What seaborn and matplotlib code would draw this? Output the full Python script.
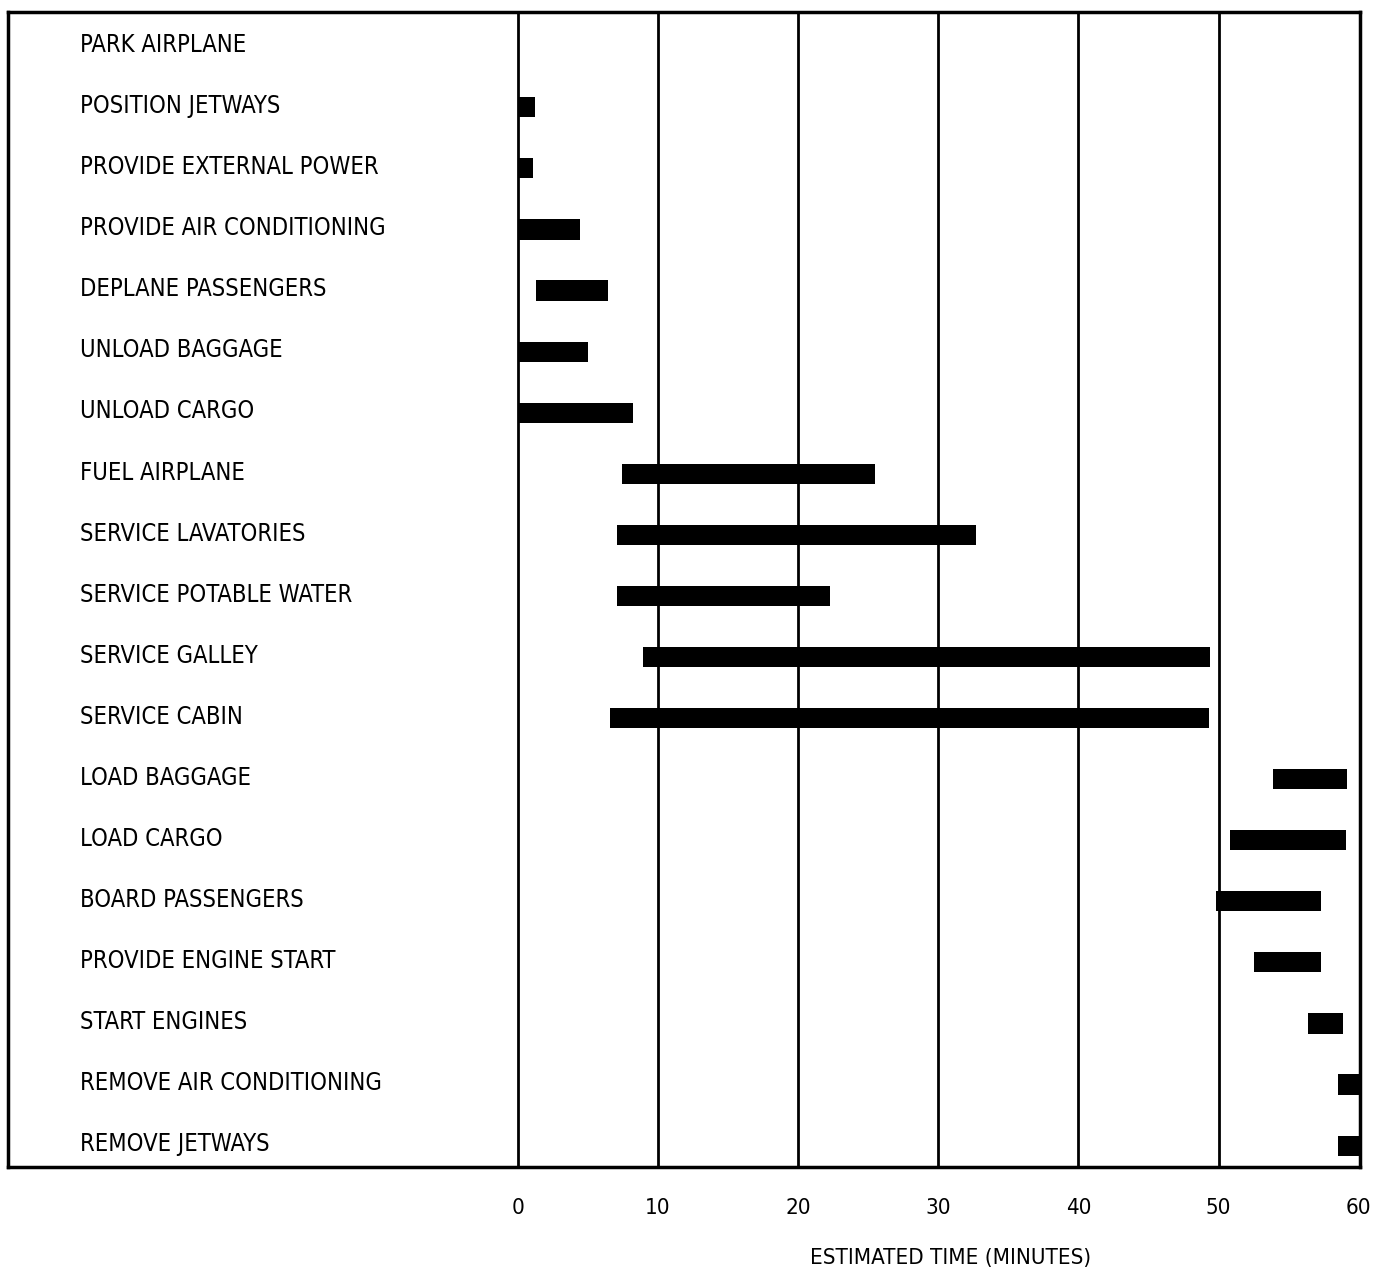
"""
Airplane turnaround schedule - Gantt style chart of ground servicing tasks.
"""

import pandas as pd
import seaborn as sns
import matplotlib.pyplot as plt

# tasks in order, top to bottom
tasks = [
    'PARK AIRPLANE', 'POSITION JETWAYS', 'PROVIDE EXTERNAL POWER',
    'PROVIDE AIR CONDITIONING', 'DEPLANE PASSENGERS', 'UNLOAD BAGGAGE',
    'UNLOAD CARGO', 'FUEL AIRPLANE', 'SERVICE LAVATORIES',
    'SERVICE POTABLE WATER', 'SERVICE GALLEY', 'SERVICE CABIN',
    'LOAD BAGGAGE', 'LOAD CARGO', 'BOARD PASSENGERS',
    'PROVIDE ENGINE START', 'START ENGINES', 'REMOVE AIR CONDITIONING',
    'REMOVE JETWAYS',
]

# start / end times in minutes
start = [0, 0, 0, 0, 1.3, 0, 0, 7.4, 7.1, 7.1, 8.9, 6.6,
         53.9, 50.8, 49.8, 52.5, 56.4, 58.5, 58.5]
end = [0, 1.2, 1.1, 4.4, 6.4, 5.0, 8.2, 25.5, 32.7, 22.3, 49.4, 49.3,
       59.2, 59.1, 57.3, 57.3, 58.9, 60.0, 60.0]

time_ticks = [0, 10, 20, 30, 40, 50, 60]

df = pd.DataFrame({'task': tasks, 'start': start, 'end': end})
df['duration'] = df['end'] - df['start']

sns.set_style('white')
plt.rcParams['font.family'] = ['Liberation Sans Narrow', 'DejaVu Sans']
plt.rcParams['font.stretch'] = 'condensed'
plt.rcParams['text.color'] = 'black'
plt.rcParams['xtick.color'] = 'black'
plt.rcParams['axes.labelcolor'] = 'black'

fig = plt.figure(figsize=(13.83, 12.75), dpi=100)
ax = fig.add_axes([0.0058, 0.0847, 0.9776, 0.9059])

# vertical time grid
for t in time_ticks[:-1]:
    ax.axvline(t, color='black', lw=2, zorder=1)

sns.barplot(data=df, x='duration', y='task', left=df['start'], order=tasks,
            color='black', width=0.33, saturation=1, ax=ax, zorder=3,
            edgecolor='black', linewidth=0)

ax.set_xlim(-36.4, 60.1)
ax.set_ylim(18.35, -0.56)

# task names written inside the frame, left side
for i, name in enumerate(tasks):
    ax.text(0.053, i - 0.02, name, transform=ax.get_yaxis_transform(),
            ha='left', va='center', fontsize=17)

ax.set_yticks([])
ax.set_ylabel('')
ax.set_xticks(time_ticks)
ax.set_xticklabels([str(t) for t in time_ticks], fontsize=16)
ax.tick_params(axis='x', length=0, pad=22)
ax.set_xlabel('ESTIMATED TIME (MINUTES)', fontsize=16)
ax.xaxis.set_label_coords(0.697, -0.07)

for side in ['top', 'bottom', 'left', 'right']:
    ax.spines[side].set_visible(True)
    ax.spines[side].set_color('black')
    ax.spines[side].set_linewidth(2.5)

plt.savefig('out.png', dpi=100)
